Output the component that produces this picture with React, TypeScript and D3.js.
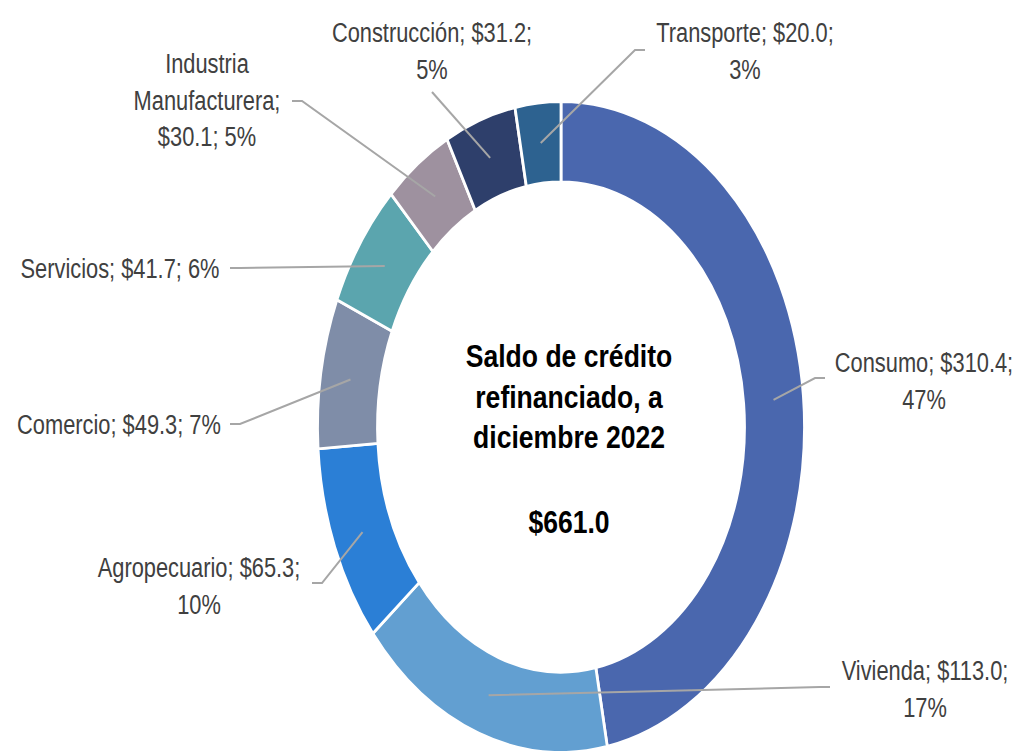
import React from "react";
import * as d3 from "d3";

const categories = ["Consumo", "Vivienda", "Agropecuario", "Comercio", "Servicios", "Industria Manufacturera", "Construcción", "Transporte"];
const values = [310.4, 113.0, 65.3, 49.3, 41.7, 30.1, 31.2, 20.0];
const colors = ["#4A67AE", "#629FD1", "#2B7FD6", "#7F8DA8", "#5BA5AE", "#9E919F", "#2E3F6B", "#2D6290"];
const labelLines = [
  ["Consumo; $310.4;", "47%"],
  ["Vivienda; $113.0;", "17%"],
  ["Agropecuario; $65.3;", "10%"],
  ["Comercio; $49.3; 7%"],
  ["Servicios; $41.7; 6%"],
  ["Industria", "Manufacturera;", "$30.1; 5%"],
  ["Construcción; $31.2;", "5%"],
  ["Transporte; $20.0;", "3%"],
];
const titleLines = ["Saldo de crédito", "refinanciado, a", "diciembre 2022"];
const totalLabel = "$661.0";

// label layout: [centerX, firstBaseline, attachX, attachY, hookDir]
const labelLayout: [number, number, number, number, number][] = [
  [924, 372, 825, 378, -1],
  [925, 680, 830, 687, -1],
  [199, 577, 312, 583, 1],
  [119, 434, 230, 424, 1],
  [120, 278, 230, 268, 1],
  [207, 73, 292, 101, 1],
  [432, 42, 432, 92, 0],
  [745, 42, 645, 50, -1],
];

const W = 1020, H = 751;
const CX = 561, CY = 427;
const RX_OUT = 243.5, RX_IN = 183.5;
const SY = 1.336;
const FONT = "'Liberation Sans', Arial, sans-serif";

export default function App() {
  const pie = d3.pie<number>().sort(null).value((d) => d)(values);
  const arc = d3.arc<d3.PieArcDatum<number>>().innerRadius(RX_IN).outerRadius(RX_OUT);
  const midR = (RX_IN + RX_OUT) / 2;
  const centroid = (p: d3.PieArcDatum<number>) => {
    const a = (p.startAngle + p.endAngle) / 2;
    return [CX + Math.sin(a) * midR, CY - Math.cos(a) * midR * SY];
  };
  const lineH = 36.5;
  return (
    <svg width={W} height={H} style={{ position: "absolute", left: 0, top: 0, background: "#fff" }}>
      <g transform={`translate(${CX},${CY}) scale(1,${SY})`}>
        {pie.map((p, i) => (
          <path key={i} d={arc(p) || ""} fill={colors[i]} stroke="#fff" strokeWidth={2.8} style={{ vectorEffect: "non-scaling-stroke" } as any} />
        ))}
      </g>
      {pie.map((p, i) => {
        const [cx, cy] = centroid(p);
        const [, , ax, ay, dir] = labelLayout[i];
        const pts = dir === 0 ? [[ax, ay], [cx, cy]] : [[ax, ay], [ax + dir * 10, ay], [cx, cy]];
        return (
          <path key={"l" + i} d={d3.line()(pts as [number, number][]) || ""} fill="none" stroke="#A6A6A6" strokeWidth={2} />
        );
      })}
      {labelLines.map((lines, i) => {
        const [lx, ly] = labelLayout[i];
        return (
          <g key={"t" + i}>
            {lines.map((s, j) => (
              <text key={j} transform={`translate(${lx},${ly + j * lineH}) scale(0.78,1)`} textAnchor="middle" fontFamily={FONT} fontSize={28} fill="#404040">
                {s}
              </text>
            ))}
          </g>
        );
      })}
      {titleLines.map((s, j) => (
        <text key={"h" + j} transform={`translate(569,${367 + j * 40.5}) scale(0.857,1)`} textAnchor="middle" fontFamily={FONT} fontWeight="bold" fontSize={31} fill="#000">
          {s}
        </text>
      ))}
      <text transform={`translate(569,533) scale(0.857,1)`} textAnchor="middle" fontFamily={FONT} fontWeight="bold" fontSize={31} fill="#000">
        {totalLabel}
      </text>
    </svg>
  );
}
